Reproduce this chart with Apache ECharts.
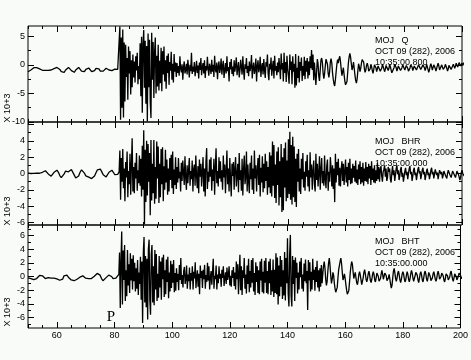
<!DOCTYPE html>
<html><head><meta charset="utf-8">
<script src="https://cdn.jsdelivr.net/npm/echarts@6/dist/echarts.min.js"></script>
<style>html,body{margin:0;padding:0;background:#f8fbf7}#c{width:471px;height:360px}</style>
</head><body><div id="c"></div>
<script>
// ---- sampling of the traces (seconds) ----
const preStart = 50, preStep = 0.5;     // quiet part before the P arrival
const postStart = 81.5, postStep = 0.25; // after the P arrival

// ---- MOJ Q (x 10^3) ----
const qPre = [
 -1.2,-1.1,-0.9,-0.6,-0.5,-0.45,-0.5,-0.6,-0.7,-0.85,
 -0.95,-1.0,-0.95,-0.9,-0.95,-1.0,-0.9,-0.8,-0.65,-0.5,
 -0.45,-0.5,-0.8,-1.2,-1.4,-1.3,-0.9,-0.55,-0.45,-0.6,
 -1.0,-1.35,-1.3,-0.9,-0.55,-0.45,-0.7,-1.1,-1.35,-1.2,
 -0.8,-0.5,-0.55,-0.9,-1.2,-1.3,-1.0,-0.6,-0.5,-0.7,
 -1.1,-1.25,-1.1,-0.8,-0.6,-0.65,-0.9,-1.1,-1.0,-0.85,
 -0.75,-0.8,-0.8
];
const qPost = [
 -0.8,6.7,-9.6,4.8,-7.5,6.2,-9.2,3.9,-6.4,3.5,-2.1,1.2,-6.1,3.2,-1.5,2.4,-5.2,0.8,-3.9,1.8,
 -2.2,0.6,-3.1,1.5,-1.0,2.1,-3.4,-0.2,-2.5,3.8,-5.5,4.9,-8.4,3.6,6.1,-4.0,4.2,-6.8,3.3,-9.9,
 5.5,-3.9,4.4,-6.5,-9.3,5.6,-2.6,4.0,-5.8,2.2,4.8,-5.0,1.6,-3.8,3.5,-4.5,0.7,-3.2,3.0,-4.6,
 2.4,-1.7,3.2,-2.9,0.8,-4.2,1.6,-1.4,2.0,-3.5,0.5,-1.0,2.3,-2.6,0.2,-3.1,1.9,-1.2,0.4,-2.1,
 0.3,-1.4,-0.2,-1.9,1.5,-0.6,-1.3,0.1,-2.6,-0.4,0.6,-1.5,-0.9,0.2,-1.7,0.9,-0.5,-2.2,0.0,-1.1,
 2.1,-1.6,-0.3,-1.2,0.5,-2.0,-0.8,0.7,-1.4,-0.1,-2.4,0.4,-0.9,1.2,-1.8,-0.4,0.3,-1.5,0.8,-2.3,
 -0.2,-1.0,1.4,-0.7,-1.9,0.2,-0.5,-1.6,0.9,-1.2,0.0,-2.1,1.6,-0.8,-1.3,0.4,-2.5,-0.3,0.6,-1.4,
 -0.6,1.1,-1.7,-0.2,0.7,-2.3,-0.9,0.3,-1.5,1.5,-1.1,-0.4,-2.9,0.5,-0.8,1.0,-1.6,-0.3,-2.0,0.8,
 -1.2,-0.1,1.3,-1.8,-0.6,0.5,-2.2,-1.0,0.9,-0.4,-1.7,1.5,-0.9,-2.6,0.1,-0.7,1.2,-1.4,-0.2,-2.0,
 0.6,-1.1,-0.3,1.7,-2.4,-0.5,0.4,-1.6,-0.8,1.1,-2.9,-0.2,0.8,-1.3,-0.6,1.4,-2.1,-0.4,0.3,-1.7,
 1.0,-0.9,-2.3,0.5,-0.3,1.8,-1.5,-2.7,0.2,-0.8,1.3,-1.9,-0.4,0.7,-2.4,1.6,-1.0,-0.2,-1.8,0.4,
 -1.3,1.2,-0.6,-2.5,2.0,-0.8,0.3,-2.9,2.1,-1.4,0.5,-3.0,1.6,-0.7,-1.9,-3.3,1.8,-0.9,0.6,-3.4,
 1.5,-1.2,0.2,-4.0,1.9,-3.6,-0.5,-2.3,1.6,-3.1,0.5,-1.0,1.3,-2.8,-0.2,-1.9,1.4,-2.5,0.7,-1.2,
 1.2,-2.4,0.6,-1.8,1.5,-0.6,2.6,-0.9,1.8,-2.7,0.4,-1.6,-3.5,-1.2,1.0,0.2,-2.0,-2.8,-1.0,0.8,
 1.2,0.4,-1.5,-2.4,-1.6,-0.2,1.0,1.3,0.1,-1.5,-2.2,-1.2,0.5,1.1,0.3,-1.4,-2.5,-3.3,-3.7,-2.6,
 -1.2,0.1,0.9,0.3,1.1,1.5,0.6,-0.8,-1.9,-1.2,-0.5,-1.7,-2.8,-3.5,-3.7,-2.9,-1.3,0.4,1.4,2.0,
 1.3,0.2,-0.9,-0.4,0.5,-0.6,-1.8,-2.7,-3.2,-2.5,-1.1,0.2,-0.3,-1.2,-0.6,0.3,0.9,1.2,0.5,-0.6,
 -1.3,-0.9,-0.1,0.3,-0.2,-1.1,-1.4,-0.7,0.1,-0.3,-1.0,-1.5,-0.8,0.0,0.2,-0.5,-1.2,-0.9,-0.2,0.1,
 -0.4,-1.1,-1.3,-0.6,0.1,0.0,-0.7,-1.2,-0.8,-0.1,0.2,-0.4,-1.0,-0.6,0.1,-0.3,-0.9,-1.4,-1.7,-1.2,
 -0.5,0.1,0.2,-0.5,-1.1,-0.9,-0.2,0.1,-0.4,-1.0,-1.2,-0.5,0.0,0.3,-0.3,-0.9,-0.7,-0.1,0.1,-0.6,
 -1.1,-1.3,-0.6,0.0,0.2,-0.4,-1.0,-0.8,-0.2,0.1,-0.3,-0.9,-1.2,-0.7,0.0,0.3,-0.2,-0.8,-1.1,-0.5,
 0.0,0.2,-0.5,-1.0,-0.6,0.1,-0.1,-0.8,-1.3,-0.9,-0.2,0.2,-0.3,-0.9,-0.7,0.0,0.1,-0.6,-1.1,-0.8,
 -0.1,0.3,-0.2,-0.9,-1.2,-0.6,0.0,-0.2,-0.8,-1.0,-0.4,0.1,0.0,-0.6,-1.1,-0.7,-0.1,0.2,-0.3,-0.8,
 -1.0,-0.5,0.1,-0.1,-0.6,-0.2,0.3,0.1,-0.4,-0.1,0.4,0.2,-0.2,0.1,0.3,-0.1,0.2,0.4,0.0,0.2
];

// ---- MOJ BHR (x 10^3) ----
const bhrPre = [
 0.05,0.1,0.0,0.08,0.02,0.1,0.05,0.12,0.03,0.08,
 0.15,0.28,0.34,0.2,-0.05,-0.25,-0.33,-0.15,0.15,0.38,
 0.4,0.15,-0.25,-0.5,-0.4,-0.05,0.3,0.35,0.2,0.35,
 0.48,0.25,-0.2,-0.55,-0.6,-0.3,0.15,0.45,0.4,0.05,
 -0.3,-0.5,-0.45,-0.55,-0.62,-0.6,-0.3,0.1,0.45,0.6,
 0.55,0.2,-0.15,-0.38,-0.42,-0.2,0.15,0.38,0.4,0.15,
 -0.15,-0.3,-0.1
];
const bhrPost = [
 0.2,2.8,-3.2,1.9,-1.0,3.0,-1.8,0.6,-3.4,1.4,-0.5,2.7,-2.9,0.3,-1.3,2.4,-2.6,1.1,4.3,-2.2,
 0.8,-2.4,1.3,-0.6,2.5,-2.1,0.4,-1.2,2.2,-1.5,1.8,-2.8,3.4,-2.0,5.3,-6.2,2.9,-3.5,4.0,-2.7,
 3.6,-1.0,2.5,-5.1,4.1,-3.3,1.2,-2.4,4.1,-3.7,0.8,-3.1,3.9,-0.6,3.3,-3.6,1.2,-2.9,3.0,-1.3,
 3.2,-3.4,0.9,-2.0,2.9,-1.1,1.7,-2.6,0.6,-2.2,1.9,-0.8,2.3,-1.8,2.7,-2.5,0.5,-1.4,2.0,-1.9,
 0.8,-1.1,1.9,-0.6,0.2,-2.2,1.3,-0.9,1.6,0.1,-1.4,2.1,-0.5,-2.0,1.0,-1.2,0.4,1.9,-1.5,0.3,
 -0.7,1.6,-2.2,0.5,1.1,-1.5,2.2,-0.3,-1.8,0.9,-2.4,1.7,-0.4,1.2,-1.6,0.2,2.0,-2.2,0.6,-2.8,
 1.4,3.1,-1.9,0.2,-1.0,1.7,-0.4,2.0,-2.1,0.5,-0.9,1.8,-2.6,0.7,3.1,-1.2,0.3,-1.6,2.0,-0.6,
 1.5,-1.0,0.4,-2.0,2.2,-0.5,1.1,-2.4,0.3,2.8,-1.3,0.6,-2.2,1.9,-0.7,-2.8,1.2,-0.3,1.4,-2.0,
 0.6,2.0,-1.6,-0.2,1.2,-2.3,2.5,-0.8,0.4,-2.1,1.8,-2.7,0.5,2.2,-1.3,-0.4,2.7,-2.2,1.1,-1.0,
 -2.4,1.3,-0.7,2.2,-2.0,0.6,-2.5,2.8,-0.6,1.0,-2.2,0.4,1.9,-1.4,2.3,-2.8,0.7,-1.1,2.1,-2.3,
 1.2,-1.8,2.4,-0.9,1.5,-2.6,0.8,-1.7,2.6,-2.4,2.2,-2.8,3.9,-1.5,3.5,-3.0,1.1,-3.6,2.7,-1.4,
 3.2,-3.9,1.5,-2.9,3.6,-4.7,2.0,-4.5,3.1,-1.7,3.8,-3.4,1.6,-3.0,4.2,-2.5,5.1,-3.2,3.5,-3.8,
 4.5,-2.9,3.3,-3.5,1.8,-4.1,2.4,-1.0,3.0,-2.2,0.6,-2.5,1.8,-0.7,2.5,-1.7,0.2,-2.1,1.5,-0.4,
 2.3,-1.6,0.4,-2.2,2.6,-0.5,1.1,-2.0,0.3,1.6,-1.3,-2.2,2.4,-0.8,1.2,-1.6,0.1,2.1,-2.0,0.5,
 1.9,-1.2,0.3,-1.5,2.2,-0.8,-1.8,0.9,1.7,-2.1,0.2,-1.0,2.0,0.6,-1.6,1.0,-1.9,0.6,-3.5,2.4,
 -1.1,1.4,-0.2,1.8,-1.5,0.7,-1.6,0.5,1.5,-0.9,1.2,-1.4,0.3,1.7,-1.1,0.8,-1.6,1.3,-0.8,1.8,
 -1.3,0.6,-1.2,1.2,-0.5,0.9,-1.0,1.6,-1.2,0.5,-1.4,1.1,-0.7,1.5,-1.3,0.8,-1.1,1.3,-1.5,0.6,
 -0.9,1.4,-1.0,0.8,-1.3,1.2,-0.6,0.9,-1.4,1.5,-0.8,0.6,-1.1,1.0,-1.2,0.4,-0.9,1.3,-0.7,0.8,
 -1.0,0.5,0.9,-0.3,-1.0,0.2,0.5,1.0,-0.4,0.6,-0.9,-0.5,0.8,0.2,0.6,-0.7,-1.1,0.1,0.9,-0.2,
 0.4,-0.9,-0.2,0.6,1.0,-0.1,0.4,-0.8,-0.3,0.5,0.8,-0.4,0.1,-1.0,-0.4,0.3,0.7,-0.2,0.2,-0.7,
 0.0,0.6,0.9,-0.1,0.2,-0.9,-0.3,0.4,0.7,-0.2,0.1,-0.8,-0.2,0.5,0.8,0.0,0.3,-0.7,-0.2,0.4,
 0.7,-0.1,0.2,-0.8,-0.3,0.3,0.6,-0.2,0.1,-0.7,-0.2,0.4,0.7,-0.1,0.2,-0.6,-0.1,0.5,0.6,-0.2,
 0.1,-0.7,-0.1,0.4,0.6,-0.1,0.2,-0.6,-0.2,0.3,0.5,-0.2,0.0,-0.6,0.0,0.4,0.5,-0.1,0.1,-0.5,
 -0.1,0.3,0.5,-0.1,0.1,-0.5,-0.1,0.3,0.4,-0.1,-0.4,-0.8,-0.5,0.1,0.4,0.0,0.2,-0.3,0.1,0.2
];

// ---- MOJ BHT (x 10^3) ----
const bhtPre = [
 -0.2,-0.35,-0.3,-0.4,-0.45,-0.47,-0.3,-0.05,0.15,0.24,
 0.1,-0.15,-0.3,-0.25,-0.15,-0.2,-0.25,-0.2,-0.25,-0.3,
 -0.35,-0.45,-0.55,-0.62,-0.4,0.1,0.34,0.2,-0.1,-0.35,
 -0.5,-0.6,-0.62,-0.55,-0.4,-0.3,-0.1,0.05,0.1,-0.05,
 -0.25,-0.35,-0.3,-0.25,-0.3,-0.2,0.05,0.3,0.45,0.49,
 0.2,-0.3,-0.62,-0.5,-0.2,0.05,0.2,0.24,0.0,-0.3,
 -0.38,-0.25,-0.1
];
const bhtPost = [
 0.3,3.5,-4.6,2.2,6.6,-4.1,3.8,-0.5,4.6,-3.6,0.9,-2.9,3.9,-1.3,1.8,-2.4,3.4,-0.6,2.6,-1.9,
 3.1,-0.7,2.0,-2.2,1.2,-1.8,2.4,-2.7,0.6,-1.1,2.9,-3.4,2.2,-6.8,3.5,5.8,-3.8,3.0,-4.5,2.6,
 -6.3,4.0,5.4,-3.5,-5.6,3.2,4.6,-3.8,1.5,-4.2,3.9,-1.9,3.3,-3.6,0.4,-3.1,3.0,-1.6,2.2,-3.4,
 2.8,-0.4,3.2,-3.0,0.9,-2.6,2.5,-0.8,2.9,-3.2,0.6,-2.2,2.3,-1.7,1.8,-0.9,2.4,-2.3,0.5,-2.1,
 1.2,-0.8,0.4,-2.0,1.7,-0.5,2.7,-1.1,0.2,-1.6,0.8,1.4,-1.1,-0.4,1.6,-1.8,0.3,-0.7,1.3,-1.9,
 0.5,-0.6,1.5,-1.9,0.7,-0.3,2.1,-1.7,-0.1,0.9,-1.5,0.4,-2.6,1.6,-0.2,0.8,-1.7,1.0,-0.4,1.7,
 -1.8,0.2,-0.8,2.0,-0.6,1.5,-1.9,-0.2,0.8,-1.2,0.7,2.6,-1.8,0.1,-0.4,1.6,-1.9,0.3,-1.0,1.5,
 -0.3,0.4,-1.5,1.0,-0.2,1.5,-1.4,-0.2,0.6,-1.1,1.3,-0.5,0.2,1.5,-1.3,0.1,-1.5,0.9,-0.2,1.4,
 -1.4,0.6,-1.9,2.2,-0.4,1.8,-2.6,0.5,3.2,-2.0,1.5,-2.7,0.9,-0.2,2.7,-1.8,0.3,-2.5,1.6,-1.1,
 2.6,-2.3,0.8,-1.6,2.4,-0.9,2.7,-2.2,0.5,-2.7,2.1,-0.8,1.5,-2.4,0.9,-2.6,2.2,-0.6,2.6,-2.3,
 0.7,-2.5,2.3,-0.9,2.7,-2.4,0.8,-2.6,2.2,-1.0,2.6,-2.7,0.9,-2.2,2.5,-3.0,1.0,-2.4,3.4,-2.6,
 2.8,-4.1,1.6,-2.9,3.0,-1.5,2.4,-3.3,0.9,-2.8,3.6,-3.5,2.7,-1.0,5.6,-2.6,-4.4,3.3,6.1,-2.8,
 -4.4,3.0,-1.1,2.4,-3.6,2.8,-0.2,2.0,-2.5,0.6,-1.9,2.2,-0.1,2.7,-1.8,0.3,-2.2,1.9,-0.7,2.5,
 -1.0,0.8,-4.9,2.4,-0.6,2.1,-2.2,0.7,-1.9,2.6,-0.5,1.0,-2.1,1.4,-0.8,2.3,-1.6,0.9,-2.2,1.2,
 -1.5,1.7,-1.0,0.4,1.6,2.2,1.2,-0.4,-1.3,-0.7,0.8,2.0,2.7,1.6,0.1,-1.0,-0.4,0.6,0.2,-1.0,
 -1.8,-2.3,-2.4,-1.6,-0.2,1.0,1.6,2.2,2.7,1.9,0.6,-0.5,-0.2,0.4,-0.3,-1.2,-2.0,-2.6,-2.7,-2.1,
 -0.9,0.5,1.5,2.2,1.8,0.7,-0.3,0.2,0.6,-0.2,-0.9,-1.2,-0.6,0.3,0.7,0.2,-0.5,-1.2,-1.0,-0.2,
 0.6,1.0,0.4,-0.4,-0.8,-0.3,0.4,0.8,0.2,-0.6,-0.9,-0.4,0.3,0.7,0.3,-0.5,-0.8,-0.2,0.5,0.6,
 0.0,-0.7,-0.9,-0.3,0.4,0.9,0.3,-0.4,-0.2,0.5,0.7,0.1,-0.6,-0.8,-0.2,0.3,-0.4,-1.1,-1.7,-1.3,
 -0.2,0.8,1.2,0.5,-0.3,-0.7,-0.2,0.5,0.8,0.2,-0.5,-0.9,-0.4,0.3,0.7,0.4,-0.3,-0.8,-0.5,0.2,
 0.7,0.3,-0.4,-0.8,-0.3,0.4,0.9,0.5,-0.2,-0.7,-0.6,0.1,0.6,0.8,0.2,-0.5,-0.9,-0.3,0.4,0.7,
 0.2,-0.5,-0.8,-0.2,0.5,0.8,0.3,-0.4,-0.7,-0.1,0.6,0.7,0.0,-0.6,-0.8,-0.2,0.4,0.7,0.2,-0.4,
 -0.7,-0.3,0.4,0.8,0.3,-0.4,-0.6,0.0,0.5,0.7,0.1,-0.5,-0.8,-0.3,0.4,0.6,0.1,-0.5,-0.7,-0.1,
 0.5,0.8,0.2,-0.4,-0.7,-0.2,0.4,0.6,0.0,-0.5,-0.6,0.0,0.5,0.7,0.2,-0.3,-0.5,0.0,0.4,0.3
];

// ---- axes / tick labels ----
const xMin = 50, xMax = 200;
const xMajorTicks = [60, 80, 100, 120, 140, 160, 180, 200];
const xMinorTicks = [50,55,60,65,70,75,80,85,90,95,100,105,110,115,120,125,130,135,140,145,150,155,160,165,170,175,180,185,190,195,200];
const qRange = [-10, 6.8], qYMajor = [-10, -5, 0, 5], qYLabels = [-10, -5, 0, 5], qYMinor = [-7.5, -2.5, 2.5];
const bhrRange = [-6.3, 6.3], bhrYMajor = [-6, -4, -2, 0, 2, 4, 6], bhrYLabels = [-6, -4, -2, 0, 2, 4], bhrYMinor = [-5, -3, -1, 1, 3, 5];
const bhtRange = [-7.55, 7.55], bhtYMajor = [-6, -4, -2, 0, 2, 4, 6], bhtYLabels = [-6, -4, -2, 0, 2, 4, 6], bhtYMinor = [-7, -5, -3, -1, 1, 3, 5, 7];
const stationLabels = ['MOJ   Q', 'MOJ   BHR', 'MOJ   BHT'];
const dateLabel = 'OCT 09 (282), 2006';
const timeLabels = ['10:35:00.800', '10:35:00.000', '10:35:00.000'];
const unitLabel = 'X 10+3';
const phaseLabel = 'P';

const FONT = "'Liberation Sans', Arial, sans-serif";

function build(pre, post) {
  const d = [];
  pre.forEach((v, i) => d.push([preStart + i * preStep, v]));
  post.forEach((v, i) => d.push([postStart + i * postStep, v]));
  return d;
}

const panels = [
  { top: 26, height: 96, range: qRange, major: qYMajor, labels: qYLabels, minor: qYMinor, data: build(qPre, qPost), showX: false, unitY: 108, textTop: 35 },
  { top: 122, height: 103, range: bhrRange, major: bhrYMajor, labels: bhrYLabels, minor: bhrYMinor, data: build(bhrPre, bhrPost), showX: false, unitY: 211, textTop: 136 },
  { top: 225, height: 103, range: bhtRange, major: bhtYMajor, labels: bhtYLabels, minor: bhtYMinor, data: build(bhtPre, bhtPost), showX: true, unitY: 312, textTop: 236 }
];

const grid = [], xAxis = [], yAxis = [], series = [], graphic = [];
panels.forEach((p, k) => {
  grid.push({ left: 28, right: 9, top: p.top, height: p.height, show: true, borderColor: '#000', borderWidth: 1, backgroundColor: 'transparent' });
  const mkX = (pos, ticks, len, labels) => ({
    type: 'value', gridIndex: k, min: xMin, max: xMax, position: pos,
    axisLine: { show: false, onZero: false }, splitLine: { show: false },
    axisTick: { show: true, inside: true, length: len, customValues: ticks, lineStyle: { color: '#000', width: 1 } },
    axisLabel: labels ? { show: true, customValues: labels, margin: 3, fontSize: 9, fontFamily: FONT, color: '#000' } : { show: false }
  });
  const xi = xAxis.length;
  xAxis.push(mkX('bottom', xMajorTicks, 6, p.showX ? xMajorTicks : null), mkX('bottom', xMinorTicks, 3), mkX('top', xMajorTicks, 6), mkX('top', xMinorTicks, 3));
  const mkY = (pos, ticks, len, labels) => ({
    type: 'value', gridIndex: k, min: p.range[0], max: p.range[1], position: pos,
    axisLine: { show: false, onZero: false }, splitLine: { show: false },
    axisTick: { show: true, inside: true, length: len, customValues: ticks, lineStyle: { color: '#000', width: 1 } },
    axisLabel: labels ? { show: true, customValues: labels, margin: 3, fontSize: 9, fontFamily: FONT, color: '#000' } : { show: false }
  });
  const yi = yAxis.length;
  yAxis.push(mkY('left', p.major, 6, p.labels), mkY('left', p.minor, 3), mkY('right', p.major, 6), mkY('right', p.minor, 3));
  series.push({
    type: 'line', xAxisIndex: xi, yAxisIndex: yi, data: p.data, showSymbol: false, symbol: 'none',
    lineStyle: { color: '#000', width: 1.3 }, clip: true, animation: false, silent: true
  });
  graphic.push({
    type: 'text', left: 375, top: p.textTop, z: 10,
    style: { text: stationLabels[k] + '\n' + dateLabel + '\n' + timeLabels[k], font: '9px ' + FONT, fill: '#000', lineHeight: 11 }
  });
  graphic.push({
    type: 'text', x: 8, y: p.unitY, rotation: Math.PI / 2, z: 10,
    style: { text: unitLabel, font: '9px ' + FONT, fill: '#000', align: 'center', verticalAlign: 'middle' }
  });
});
graphic.push({
  type: 'text', x: 111, y: 317, z: 10,
  style: { text: phaseLabel, font: '15px "Liberation Serif","DejaVu Serif",serif', fill: '#000', align: 'center', verticalAlign: 'middle' }
});

const chart = echarts.init(document.getElementById('c'), null, { renderer: 'canvas' });
chart.setOption({ backgroundColor: '#f8fbf7', animation: false, grid, xAxis, yAxis, series, graphic });
</script></body></html>
